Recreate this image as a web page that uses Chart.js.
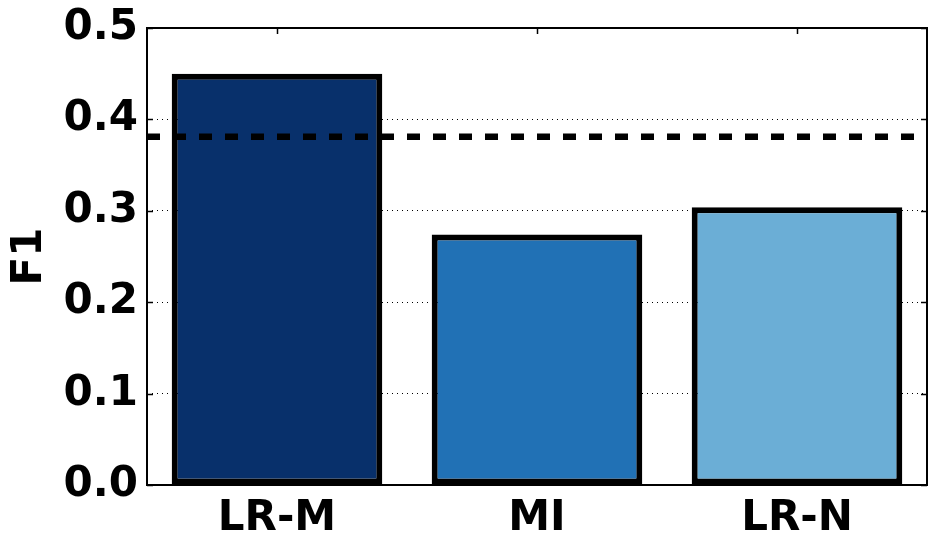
<!DOCTYPE html>
<html>
<head>
<meta charset="utf-8">
<script src="https://cdn.jsdelivr.net/npm/chart.js@4"></script>
<style>
  body { margin: 0; background: #fff; }
  #wrap { width: 934px; height: 545px; }
</style>
</head>
<body>
<div id="wrap"><canvas id="f1Chart" width="934" height="545"></canvas></div>
<script>
// data
let methods = ['LR-M', 'MI', 'LR-N'];
let f1Scores = [0.450, 0.274, 0.304];
let barColors = ['#08306b', '#2171b5', '#6baed6'];
let yTicks = [0.0, 0.1, 0.2, 0.3, 0.4, 0.5];
let baselineF1 = 0.381;

const FONT = "'DejaVu Sans', sans-serif";

// frame, inward ticks and the dashed baseline, drawn from the chart's scales
const framePlugin = {
    id: 'frame',
    afterDatasetsDraw(chart) {
        const c = chart.ctx;
        const area = chart.chartArea;
        const y = chart.scales.y;
        const yb = y.getPixelForValue(baselineF1);
        c.save();
        c.strokeStyle = '#000';
        c.lineWidth = 6.5;
        c.setLineDash([13, 13]);
        c.beginPath();
        c.moveTo(area.left, yb);
        c.lineTo(area.right, yb);
        c.stroke();
        c.restore();
    },
    afterDraw(chart) {
        const c = chart.ctx;
        const area = chart.chartArea;
        const x = chart.scales.x;
        const y = chart.scales.y;
        c.save();
        c.strokeStyle = '#000';
        c.lineWidth = 2;
        c.strokeRect(area.left, area.top, area.right - area.left, area.bottom - area.top);
        c.lineWidth = 1.5;
        c.beginPath();
        yTicks.forEach(v => {
            const py = Math.round(y.getPixelForValue(v)) + 0.5;
            c.moveTo(area.left, py); c.lineTo(area.left + 6, py);
            c.moveTo(area.right, py); c.lineTo(area.right - 6, py);
        });
        methods.forEach((m, i) => {
            const px = Math.round(x.getPixelForValue(i)) + 0.5;
            c.moveTo(px, area.top); c.lineTo(px, area.top + 6);
            c.moveTo(px, area.bottom); c.lineTo(px, area.bottom - 6);
        });
        c.stroke();
        c.restore();
    }
};

const ctx = document.getElementById('f1Chart').getContext('2d');
const f1Chart = new Chart(ctx, {
    type: 'bar',
    data: {
        labels: methods,
        datasets: [{
            data: f1Scores,
            backgroundColor: barColors,
            borderColor: '#000',
            borderWidth: 6,
            borderSkipped: false,
            barPercentage: 0.81,
            categoryPercentage: 1.0
        }]
    },
    options: {
        responsive: false,
        animation: false,
        layout: { padding: { top: 28, right: 7, left: 0, bottom: 0 } },
        plugins: {
            legend: { display: false },
            tooltip: { enabled: false }
        },
        scales: {
            x: {
                grid: { display: false },
                border: { display: false },
                ticks: {
                    color: '#000',
                    padding: 1,
                    font: { family: FONT, size: 42, weight: 'bold' }
                },
                afterFit(scale) {
                    scale.height = 60;
                    scale.paddingLeft = 0;
                    scale.paddingRight = 0;
                }
            },
            y: {
                min: 0,
                max: 0.5,
                z: 1,
                afterBuildTicks(scale) {
                    scale.ticks = yTicks.map(v => ({ value: v }));
                },
                grid: {
                    color: '#000',
                    lineWidth: 1,
                    drawTicks: false
                },
                border: { display: false, dash: [1, 4] },
                ticks: {
                    color: '#000',
                    padding: 9,
                    font: { family: FONT, size: 42, weight: 'bold' },
                    callback: v => v.toFixed(1)
                },
                title: {
                    display: true,
                    text: 'F1',
                    color: '#000',
                    padding: { top: 5, bottom: 0 },
                    font: { family: FONT, size: 42, weight: 'bold' }
                },
                afterFit(scale) {
                    scale.width = 147;
                    scale.paddingTop = 0;
                    scale.paddingBottom = 0;
                }
            }
        }
    },
    plugins: [framePlugin]
});
</script>
</body>
</html>
